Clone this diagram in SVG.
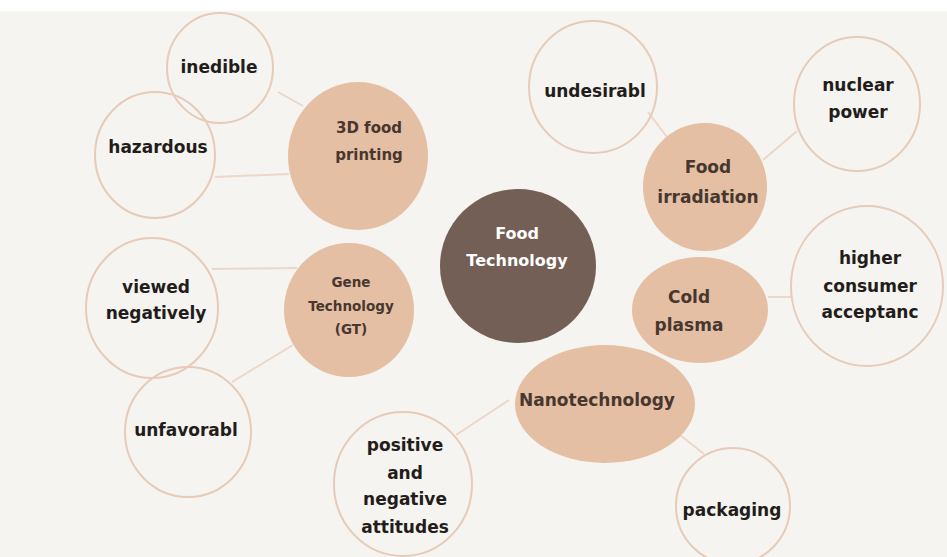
<svg xmlns="http://www.w3.org/2000/svg" width="947" height="557" viewBox="0 0 947 557">
<style>
.bg{fill:#f5f4f0}
.out{fill:none;stroke:#e6cbb9;stroke-width:2}
.main{fill:#e5bfa3}
.core{fill:#735f55}
.con line{stroke:#ecd7c9;stroke-width:2}
text{font-family:"DejaVu Sans","Open Sans",sans-serif;font-weight:700;text-anchor:middle}
.t{font-size:17px;fill:#231c1a}
.m{font-size:17px;fill:#47372f}
.p{font-size:15px;fill:#47372f}
.s{font-size:13.5px;fill:#47372f}
.w{font-size:16px;fill:#ffffff}
</style>
<rect x="0" y="0" width="947" height="557" fill="#ffffff"/>
<rect class="bg" x="0" y="11" width="947" height="546"/>
<g id="connectors" class="con">
<line x1="278" y1="92" x2="303" y2="106"/>
<line x1="215" y1="177" x2="289" y2="174"/>
<line x1="212" y1="269" x2="297" y2="268"/>
<line x1="232" y1="382" x2="293" y2="345"/>
<line x1="648" y1="112" x2="667" y2="137"/>
<line x1="797" y1="131" x2="763" y2="160"/>
<line x1="768" y1="297" x2="792" y2="297"/>
<line x1="509" y1="400" x2="456" y2="435"/>
<line x1="680" y1="435" x2="704" y2="454"/>
</g>
<g id="inedible"><ellipse class="out" cx="220" cy="68" rx="53" ry="55"/><text class="t" x="219" y="73">inedible</text></g>
<g id="hazardous"><ellipse class="out" cx="155" cy="155" rx="60" ry="63"/><text class="t" x="158" y="153">hazardous</text></g>
<g id="printing"><ellipse class="main" cx="358" cy="156" rx="70" ry="74"/><text class="p" x="369" y="133">3D food</text><text class="p" x="369" y="160">printing</text></g>
<g id="viewed"><ellipse class="out" cx="152" cy="308" rx="66" ry="70"/><text class="t" x="156" y="293">viewed</text><text class="t" x="156" y="319">negatively</text></g>
<g id="gene"><ellipse class="main" cx="349" cy="310" rx="65" ry="67"/><text class="s" x="351" y="287">Gene</text><text class="s" x="351" y="311">Technology</text><text class="s" x="351" y="334">(GT)</text></g>
<g id="unfavorabl"><ellipse class="out" cx="188" cy="432" rx="63" ry="65"/><text class="t" x="186" y="436">unfavorabl</text></g>
<g id="attitudes"><ellipse class="out" cx="403" cy="484" rx="69" ry="72"/><text class="t" x="405" y="451">positive</text><text class="t" x="405" y="479">and</text><text class="t" x="405" y="505">negative</text><text class="t" x="405" y="533">attitudes</text></g>
<g id="core"><ellipse class="core" cx="518" cy="266" rx="78" ry="77"/><text class="w" x="517" y="239">Food</text><text class="w" x="517" y="266">Technology</text></g>
<g id="undesirabl"><ellipse class="out" cx="593" cy="87" rx="64" ry="66"/><text class="t" x="595" y="97">undesirabl</text></g>
<g id="nuclear"><ellipse class="out" cx="857" cy="104" rx="63" ry="67"/><text class="t" x="858" y="91">nuclear</text><text class="t" x="858" y="118">power</text></g>
<g id="irradiation"><ellipse class="main" cx="705" cy="187" rx="62" ry="64"/><text class="m" x="708" y="173">Food</text><text class="m" x="708" y="203">irradiation</text></g>
<g id="cold"><ellipse class="main" cx="700" cy="310" rx="68" ry="53"/><text class="m" x="689" y="303">Cold</text><text class="m" x="689" y="331">plasma</text></g>
<g id="acceptance"><ellipse class="out" cx="867" cy="286" rx="76" ry="80"/><text class="t" x="870" y="264">higher</text><text class="t" x="870" y="292">consumer</text><text class="t" x="870" y="318">acceptanc</text></g>
<g id="nano"><ellipse class="main" cx="605" cy="404" rx="90" ry="59"/><text class="m" x="597" y="406">Nanotechnology</text></g>
<g id="packaging"><ellipse class="out" cx="733" cy="506" rx="57" ry="58"/><text class="t" x="732" y="516">packaging</text></g>
</svg>
